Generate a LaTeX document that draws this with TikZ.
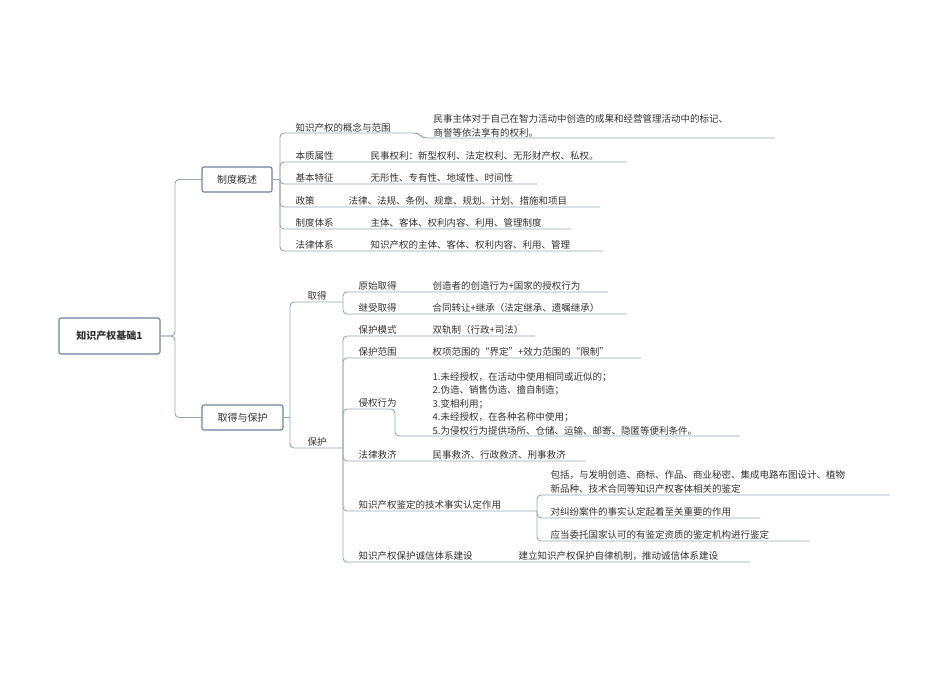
\documentclass[tikz,border=0pt]{standalone}
\usepackage{fontspec}
\setmainfont{Noto Sans CJK SC}
\begin{document}
\begin{tikzpicture}[x=1pt,y=-1pt,
  ln/.style={draw=lc,line width=0.9pt,rounded corners=4pt},
  tx/.style={anchor=south west,inner sep=1.5pt,text=tc,font=\fontsize{9.5}{13.5}\selectfont,align=left},
  bx/.style={draw=bc,line width=1.1pt,rounded corners=2pt,fill=white,text=tc,font=\fontsize{10}{12}\selectfont,minimum height=25pt}]
\definecolor{lc}{HTML}{9AA6B6}
\definecolor{bc}{HTML}{6E829C}
\definecolor{tc}{HTML}{333333}
\useasboundingbox (0,0) rectangle (950,672);
% root and main boxes
\node[bx,minimum width=101pt,minimum height=36pt,font=\fontsize{10}{12}\selectfont\bfseries] (root) at (109.5,336) {知识产权基础1};
\node[bx,minimum width=70pt] (zd) at (237,179.5) {制度概述};
\node[bx,minimum width=81pt] (qb) at (242.5,417.5) {取得与保护};
\draw[ln] (root.east) -- (175,336) |- (zd.west);
\draw[ln] (root.east) -- (175,336) |- (qb.west);
% ---- 制度概述 rows
\coordinate (z0) at (280,179.5);
\draw[ln] (zd.east) -- (z0);
\node[tx] (c1) at (294,134) {知识产权的概念与范围};
\node[tx] (g1) at (432,139) {民事主体对于自己在智力活动中创造的成果和经营管理活动中的标记、\\商誉等依法享有的权利。};
\draw[ln] (z0) |- (418,133) -- (423,138) -- (775,138);
\newcommand\zrow[6]{%
  \node[tx] (#1a) at (294,#3) {#4};
  \node[tx] (#1b) at (#5,#3) {#6};
  \draw[ln] (z0) |- (#2,#3);
}
\zrow{r2}{627}{162}{本质属性}{369}{民事权利：新型权利、法定权利、无形财产权、私权。}
\zrow{r3}{537}{184}{基本特征}{369}{无形性、专有性、地域性、时间性}
\zrow{r4}{600}{207}{政策}{347}{法律、法规、条例、规章、规划、计划、措施和项目}
\zrow{r5}{571}{229}{制度体系}{369}{主体、客体、权利内容、利用、管理制度}
\zrow{r6}{603}{251}{法律体系}{369}{知识产权的主体、客体、权利内容、利用、管理}
% ---- 取得与保护
\coordinate (q0) at (290,417.5);
\draw[ln] (qb.east) -- (q0);
\node[tx] (qd) at (306,302) {取得};
\node[tx] (bh) at (306,448) {保护};
\draw[ln] (q0) |- (343,302);
\draw[ln] (q0) |- (343,448);
\coordinate (qd0) at (343,302);
\coordinate (bh0) at (343,448);
\newcommand\qrow[7]{%
  \node[tx] (#1a) at (357,#3) {#5};
  \node[tx] (#1b) at (#6,#3) {#7};
  \draw[ln] (#4) |- (#2,#3);
}
\qrow{s1}{608}{292}{qd0}{原始取得}{431}{创造者的创造行为+国家的授权行为}
\qrow{s2}{627}{314}{qd0}{继受取得}{431}{合同转让+继承（法定继承、遗嘱继承）}
\qrow{p1}{535}{336}{bh0}{保护模式}{431}{双轨制（行政+司法）}
\qrow{p2}{641}{358}{bh0}{保护范围}{431}{权项范围的“界定”+效力范围的“限制”}
% 侵权行为
\node[tx] (p3a) at (357,409) {侵权行为};
\node[tx] (p3b) at (431,437) {1.未经授权，在活动中使用相同或近似的；\\2.伪造、销售伪造、擅自制造；\\3.变相利用；\\4.未经授权，在各种名称中使用；\\5.为侵权行为提供场所、仓储、运输、邮寄、隐匿等便利条件。};
\draw[ln] (bh0) |- (395,409) -- (395,436) -- (740,436);
\qrow{p4}{586}{461}{bh0}{法律救济}{431}{民事救济、行政救济、刑事救济}
% 鉴定
\node[tx] (p5a) at (357,511) {知识产权鉴定的技术事实认定作用};
\draw[ln] (bh0) |- (537,511);
\coordinate (j0) at (537,511);
\node[tx] (j1) at (549,495) {包括，与发明创造、商标、作品、商业秘密、集成电路布图设计、植物\\新品种、技术合同等知识产权客体相关的鉴定};
\node[tx] (j2) at (549,518) {对纠纷案件的事实认定起着至关重要的作用};
\node[tx] (j3) at (549,541) {应当委托国家认可的有鉴定资质的鉴定机构进行鉴定};
\draw[ln] (j0) |- (890,495);
\draw[ln] (j0) |- (760,518);
\draw[ln] (j0) |- (810,541);
\qrow{p6}{750}{562}{bh0}{知识产权保护诚信体系建设}{517}{建立知识产权保护自律机制，推动诚信体系建设}
\end{tikzpicture}
\end{document}
